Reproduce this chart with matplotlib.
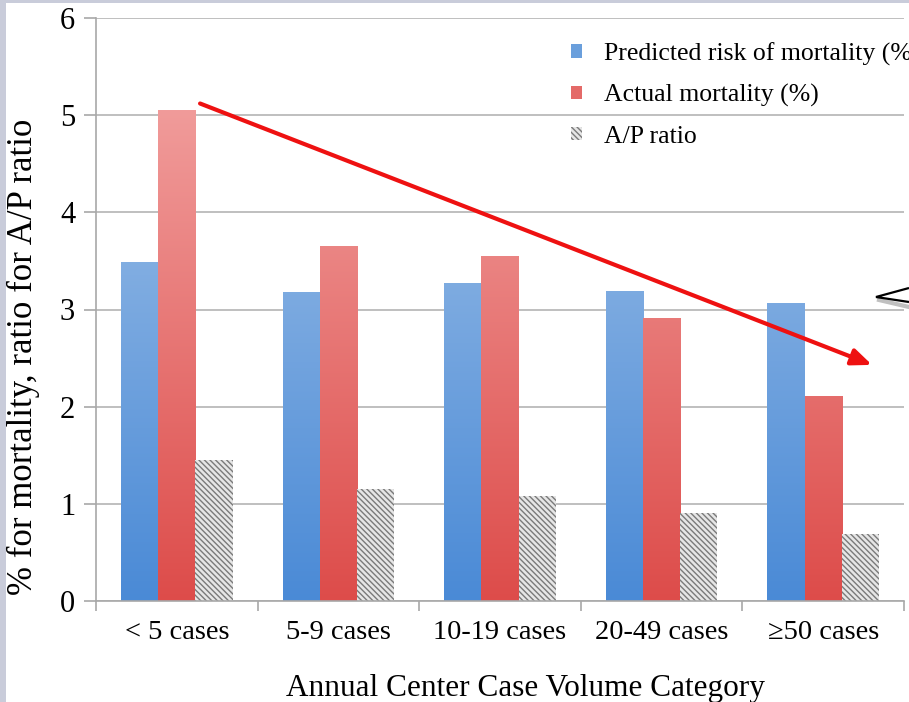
import matplotlib.pyplot as plt
import numpy as np
from matplotlib.patches import Patch, Rectangle, Polygon
from matplotlib.colors import LinearSegmentedColormap

plt.rcParams['font.family'] = 'Liberation Serif'
plt.rcParams['hatch.linewidth'] = 1.0

# Data
categories = ['< 5 cases', '5-9 cases', '10-19 cases', '20-49 cases', '\u226550 cases']
predicted = [3.49, 3.18, 3.27, 3.19, 3.07]
actual = [5.05, 3.65, 3.55, 2.91, 2.11]
ap_ratio = [1.45, 1.15, 1.08, 0.91, 0.69]

W, H = 909, 702
fig = plt.figure(figsize=(W / 100, H / 100), dpi=100, facecolor='#c9ccda')
fig.patches.append(Rectangle((6 / W, 0), 1, 1 - 3 / H, transform=fig.transFigure,
                             facecolor='white', edgecolor='none', zorder=-10))

ax = fig.add_axes([96 / W, (H - 601) / H, 808 / W, 583 / H])
ax.set_facecolor('none')

x = np.arange(len(categories))
bw = 0.23

blue_cmap = LinearSegmentedColormap.from_list('b', ['#4a8ad6', '#a9c7ea'])
red_cmap = LinearSegmentedColormap.from_list('r', ['#dd4c4a', '#f4aaa9'])
grad = np.linspace(0, 1, 256).reshape(-1, 1)

def gradient_bars(pos, vals, cmap):
    bars = ax.bar(pos, vals, bw, color='none', edgecolor='none', zorder=2)
    for b in bars:
        x0 = b.get_x()
        im = ax.imshow(grad, cmap=cmap, aspect='auto', origin='lower',
                       extent=[x0, x0 + b.get_width(), 0, 6], zorder=2)
        im.set_clip_path(b)
    return bars

gradient_bars(x - bw, predicted, blue_cmap)
gradient_bars(x, actual, red_cmap)
ax.bar(x + bw, ap_ratio, bw, color='#e6e6e6', edgecolor='#7a7a7a', hatch='\\\\\\\\\\\\',
       linewidth=0, zorder=2)

ax.set_xlim(-0.5, 4.5)
ax.set_ylim(0, 6)
ax.set_yticks(range(7))
ax.yaxis.grid(True, color='#b4b4b4', linewidth=1.2, zorder=0)
ax.set_axisbelow(True)

for s in ['top', 'right']:
    ax.spines[s].set_visible(False)
for s in ['left', 'bottom']:
    ax.spines[s].set_color('#a8a8a8')
    ax.spines[s].set_linewidth(1.2)

ax.set_xticks(x)
ax.set_xticklabels(categories, fontsize=20.5)
ax.set_xticks(np.arange(-0.5, 5, 1), minor=True)
ax.tick_params(axis='x', which='major', length=0, pad=14)
ax.tick_params(axis='x', which='minor', length=7, color='#a8a8a8', width=1.2)
ax.tick_params(axis='y', length=9, color='#a8a8a8', width=1.2, labelsize=22, pad=6)

ax.set_xlabel('Annual Center Case Volume Category', fontsize=22.5)
ax.xaxis.set_label_coords((525 - 96) / 808, -0.125)
ax.set_ylabel('% for mortality, ratio for A/P ratio', fontsize=25)
ax.yaxis.set_label_coords((40 - 96) / 808, (601 - 357) / 583)

handles = [Patch(facecolor='#6a9fdc', edgecolor='none'),
           Patch(facecolor='#e46a68', edgecolor='none'),
           Patch(facecolor='#e6e6e6', edgecolor='#7a7a7a', hatch='\\\\\\\\\\\\', linewidth=0)]
ax.legend(handles, ['Predicted risk of mortality (%)', 'Actual mortality (%)', 'A/P ratio'],
          loc='upper left', bbox_to_anchor=((548 - 96) / 808, (601 - 19) / 583),
          frameon=False, fontsize=18.5, handlelength=0.42, handleheight=0.42,
          handletextpad=0.85, labelspacing=0.72)

# trend arrow
ax.annotate('', xy=(4.302, 2.43), xytext=(0.144, 5.12),
            arrowprops=dict(arrowstyle='-|>,head_length=1.2,head_width=0.5',
                            color='#ee1111', lw=3, shrinkA=0, shrinkB=0), zorder=5)

# callout pointer at the right edge
def fxy(px, py):
    return (px / W, 1 - py / H)

fig.lines.append(plt.Line2D([fxy(879, 300)[0], fxy(909, 307)[0]],
                            [fxy(879, 300)[1], fxy(909, 307)[1]],
                            transform=fig.transFigure, color='#c0c0c0', lw=3, zorder=5))
fig.patches.append(Polygon([fxy(909, 288), fxy(876, 297), fxy(909, 302)], closed=False,
                           transform=fig.transFigure, facecolor='white',
                           edgecolor='black', lw=1.6, zorder=6))

fig.savefig('out.png', dpi=100)
